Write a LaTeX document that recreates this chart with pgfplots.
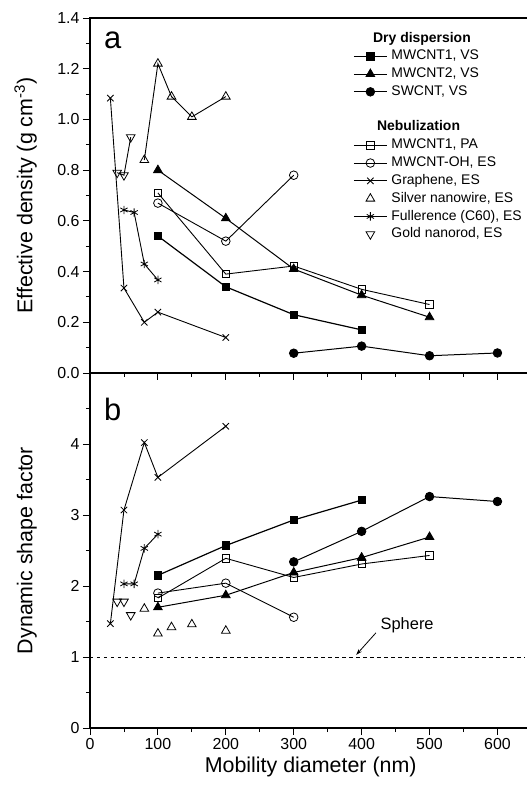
\documentclass[border=0pt]{standalone}
\usepackage{fontspec}
\setmainfont{Liberation Sans}
\usepackage{pgfplots}
\pgfplotsset{compat=1.18}
\usetikzlibrary{arrows.meta}

\pgfplotsset{
  panel/.style={
    scale only axis, width=441.4bp, height=355bp,
    xmin=0, xmax=650,
    xtick={0,100,...,600}, minor xtick={50,150,...,550},
    xtick pos=bottom, ytick pos=left,
    tick align=outside,
    major tick length=7bp, minor tick length=4bp,
    every tick/.style={black, line width=0.9bp},
    axis line style={line width=1.3bp},
    tick label style={font=\fontsize{16}{19}\selectfont},
    /pgf/number format/assume math mode=true,
    label style={font=\fontsize{21.5}{25}\selectfont},
    ylabel style={at={(axis description cs:-0.12,0.5)}, anchor=south, inner sep=0pt},
    clip=false,
  },
  mA/.style={black, line width=1.2bp, mark=square*, mark size=3.7bp, mark options={solid, fill=black, line width=0.8bp}},
  mB/.style={black, line width=1bp, mark=triangle*, mark size=5bp, mark options={solid, fill=black, line width=0.8bp}},
  mC/.style={black, line width=1bp, mark=*, mark size=4.3bp, mark options={solid, fill=black, line width=0.8bp}},
  mD/.style={black, line width=0.9bp, mark=square, mark size=3.7bp, mark options={solid, fill=white, line width=0.8bp}},
  mE/.style={black, line width=0.9bp, mark=o, mark size=4.3bp, mark options={solid, fill=white, line width=0.8bp}},
  mF/.style={black, line width=0.9bp, mark=x, mark size=4.5bp, mark options={solid, line width=0.8bp}},
  mG/.style={black, line width=0.9bp, mark=triangle, mark size=5bp, mark options={solid, fill=white, line width=0.8bp}},
  mH/.style={black, line width=0.9bp, mark=asterisk, mark size=4.2bp, mark options={solid, line width=0.8bp}},
  mI/.style={black, line width=0.9bp, mark=triangle, mark size=5bp, mark options={solid, fill=white, line width=0.8bp, rotate=180}},
  legend image code/.code={\draw[mark repeat=2,mark phase=2,#1] plot coordinates {(0bp,0bp) (16.5bp,0bp) (33bp,0bp)};},
}

\begin{document}
\begin{tikzpicture}
\useasboundingbox (-90bp,-420bp) rectangle (437bp,373bp);

% panel a: effective density
\begin{axis}[panel,
  ymin=0, ymax=1.4,
  ytick={0,0.2,...,1.4}, minor ytick={0.1,0.3,...,1.3},
  yticklabel style={/pgf/number format/fixed, /pgf/number format/fixed zerofill, /pgf/number format/precision=1},
  xticklabels={},
  ylabel={Effective density (g cm\textsuperscript{-3})},
  legend style={at={(0.596,0.962)}, anchor=north west, draw=none, fill=none,
    inner sep=0pt, row sep=4.3bp, column sep=4bp,
    font=\fontsize{14}{16}\selectfont,
    nodes={inner sep=0pt, text height=10.5bp, text depth=3bp}},
  legend cell align=left,
]
\addlegendimage{empty legend}
\addlegendentry{\strut}
\addlegendimage{mA}
\addlegendentry{MWCNT1, VS}
\addlegendimage{mB}
\addlegendentry{MWCNT2, VS}
\addlegendimage{mC}
\addlegendentry{SWCNT, VS}
\addlegendimage{empty legend}
\addlegendentry{\strut}
\addlegendimage{empty legend}
\addlegendentry{\strut}
\addlegendimage{mD}
\addlegendentry{MWCNT1, PA}
\addlegendimage{mE}
\addlegendentry{MWCNT-OH, ES}
\addlegendimage{mF}
\addlegendentry{Graphene, ES}
\addlegendimage{black, draw opacity=0, mark=triangle, mark size=5bp, mark options={solid, draw opacity=1, fill=white, line width=0.8bp}}
\addlegendentry{Silver nanowire, ES}
\addlegendimage{mH}
\addlegendentry{Fullerence (C60), ES}
\addlegendimage{black, draw opacity=0, mark=triangle, mark size=5bp, mark options={solid, draw opacity=1, fill=white, line width=0.8bp, rotate=180}}
\addlegendentry{Gold nanorod, ES}

\addplot[mF, forget plot] coordinates {(30,1.084) (50,0.335) (80,0.20) (100,0.24) (200,0.14)};
\addplot[mI, forget plot] coordinates {(40,0.79) (50,0.78) (60,0.93)};
\addplot[mG, forget plot] coordinates {(80,0.84) (100,1.22) (120,1.09) (150,1.01) (200,1.09)};
\addplot[mH, forget plot] coordinates {(50,0.643) (65,0.633) (80,0.43) (100,0.367)};
\addplot[mE, forget plot] coordinates {(100,0.67) (200,0.52) (300,0.78)};
\addplot[mB, forget plot] coordinates {(100,0.80) (200,0.61) (300,0.41) (400,0.307) (500,0.22)};
\addplot[mD, forget plot] coordinates {(100,0.71) (200,0.39) (300,0.422) (400,0.33) (500,0.27)};
\addplot[mA, forget plot] coordinates {(100,0.54) (200,0.34) (300,0.23) (400,0.17)};
\addplot[mC, forget plot] coordinates {(300,0.078) (400,0.106) (500,0.068) (600,0.079)};

\node[anchor=base west, inner sep=0pt, font=\fontsize{31}{31}\selectfont] at ([xshift=14bp,yshift=-31bp]rel axis cs:0,1) {a};
\node[anchor=base west, inner sep=0pt, font=\fontsize{14}{16}\selectfont\bfseries] at (rel axis cs:0.641,0.932) {Dry dispersion};
\node[anchor=base west, inner sep=0pt, font=\fontsize{14}{16}\selectfont\bfseries] at (rel axis cs:0.650,0.6845) {Nebulization};
\end{axis}

% panel b: dynamic shape factor
\begin{axis}[panel, at={(0,-355bp)},
  ymin=0, ymax=5,
  ytick={0,1,2,3,4}, minor ytick={0.5,1.5,...,4.5},
  xlabel={Mobility diameter (nm)},
  ylabel={Dynamic shape factor},
]
\addplot[black, line width=0.7bp, dash pattern=on 3.5bp off 3.5bp] coordinates {(0,1) (640,1)};
\addplot[mF] coordinates {(30,1.47) (50,3.07) (80,4.02) (100,3.53) (200,4.25)};
\addplot[mI, only marks] coordinates {(40,1.78) (50,1.78) (60,1.59)};
\addplot[mG, only marks] coordinates {(80,1.68) (100,1.33) (120,1.42) (150,1.46) (200,1.37)};
\addplot[mH] coordinates {(50,2.03) (65,2.03) (80,2.53) (100,2.73)};
\addplot[mD] coordinates {(100,1.83) (200,2.39) (300,2.12) (400,2.31) (500,2.43)};
\addplot[mE] coordinates {(100,1.90) (200,2.04) (300,1.56)};
\addplot[mB] coordinates {(100,1.70) (200,1.87) (300,2.19) (400,2.40) (500,2.69)};
\addplot[mA] coordinates {(100,2.15) (200,2.57) (300,2.93) (400,3.21)};
\addplot[mC] coordinates {(300,2.34) (400,2.77) (500,3.26) (600,3.19)};

\node[anchor=base west, inner sep=0pt, font=\fontsize{31}{31}\selectfont] at ([xshift=14bp,yshift=-47bp]rel axis cs:0,1) {b};
\node[font=\fontsize{16.5}{18}\selectfont] at (axis cs:467,1.45) {Sphere};
\draw[line width=0.8bp, -{Stealth[length=6bp,width=4bp]}] (axis cs:421,1.34) -- (axis cs:392,1.03);
\end{axis}
\end{tikzpicture}
\end{document}
